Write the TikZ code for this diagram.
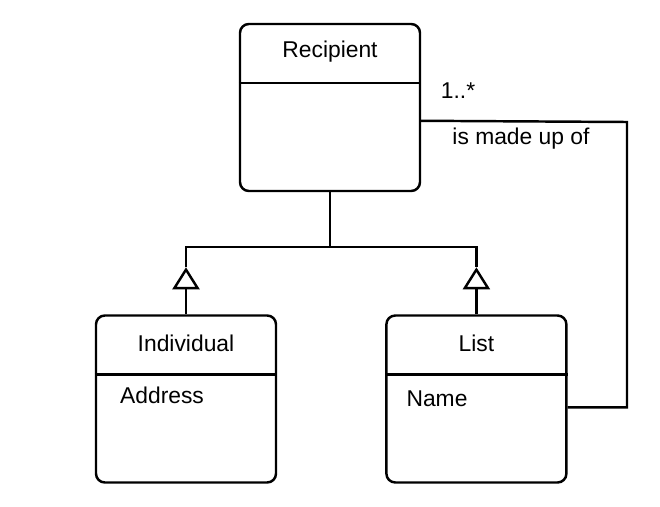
\documentclass[tikz,border=0pt]{standalone}
\usepackage{fontspec}
\setmainfont{Liberation Sans}
\usepackage{tikz}
\usetikzlibrary{arrows.meta}
\usetikzlibrary{positioning, calc}
\tikzset{
    classbox/.style = {draw=black, rounded corners=5pt, line width=1.4pt,
        inner sep=0pt, minimum width=3.6cm, minimum height=3.34cm},
    classname/.style = {inner sep=0pt, font=\fontsize{13}{15}\selectfont},
    attr/.style = {classname, anchor=west},
    link/.style = {draw=black, line width=1.4pt},
    gen/.style = {link, -{Triangle[open, length=0.44cm, width=0.54cm, line width=1.4pt]}},
}

\begin{document}
\begin{tikzpicture}[x=0.02cm, y=-0.02cm]
            \useasboundingbox (0,0) rectangle (660,507);
            \node (rec) [classbox] at (330,107.5) {};
            \node (ind) [classbox] at (186,399) {};
            \node (lst) [classbox, right=2.16cm of ind] {};
            % titles and dividers
            \foreach \c/\t in {rec/Recipient, ind/Individual, lst/List}{
                \node (\c name) [classname] at ($(\c.north)+(0,29)$) {\t};
                \draw[link] ($(\c.north west)+(0,60)$) -- ($(\c.north east)+(0,60)$);
            }
            \node (addr) [attr] at ($(ind.north west)+(25,81)$) {Address};
            \node (nm) [attr] at ($(lst.north west)+(21,84)$) {Name};
            % generalisation
            \coordinate (fork) at ($(rec.south)+(0,55)$);
            \coordinate (indtip) at ($(ind.north)+(0,-47)$);
            \coordinate (lsttip) at ($(lst.north)+(0,-47)$);
            \draw[link] (rec.south) -- (fork);
            \draw[link] (indtip) |- (fork) -| (lsttip);
            \draw[gen] (ind.north) -- (indtip);
            \draw[gen] (lst.north) -- (lsttip);
            % association
            \coordinate (recend) at ($(rec.north east)+(0,98)$);
            \coordinate (lstend) at ($(lst.north east)+(0,93)$);
            \coordinate (turn) at (627,122);
            \draw[link] (recend) -- (turn) |- (lstend);
            \node (mult) [classname] at (458,91) {1..*};
            \node (role) [classname] at (521,139) {is made up of};
\end{tikzpicture}
\end{document}
